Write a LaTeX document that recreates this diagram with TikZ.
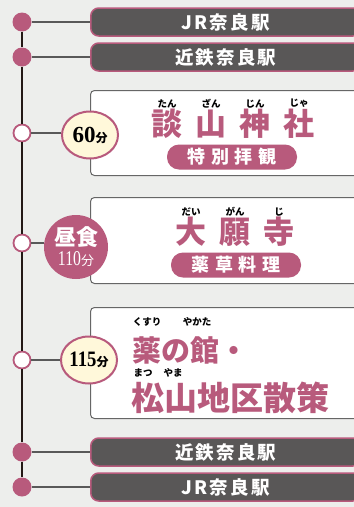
\documentclass[tikz,border=0pt]{standalone}
\usepackage{fontspec}
\usepackage{graphicx}
\setmainfont{Liberation Serif}
\newfontfamily\jp{Noto Sans CJK JP}
\newfontfamily\jpwide{Noto Sans CJK JP}[LetterSpace=12]
\newfontfamily\jppill{Noto Sans CJK JP}[LetterSpace=30]
\usetikzlibrary{positioning,calc,shapes.geometric}
\definecolor{rose}{HTML}{B85A7C}
\definecolor{slate}{HTML}{595757}
\definecolor{paper}{HTML}{EDEEEC}
\definecolor{ink}{HTML}{231815}
\definecolor{cream}{HTML}{FFF8DA}

\begin{document}
\begin{tikzpicture}[x=1pt, y=-1pt,
    station/.style={draw=rose, line width=1.5pt, fill=slate, rounded corners=8pt, minimum width=270pt, minimum height=28pt, anchor=west, text=white, font=\jpwide\bfseries\fontsize{18.5}{18.5}\selectfont},
    spotbox/.style={draw=gray!80!black, line width=1pt, fill=white, rounded corners=4pt, minimum width=270pt, anchor=north west, inner sep=0pt},
    dot/.style={circle, fill=rose, minimum size=19pt, inner sep=0pt},
    hole/.style={circle, draw=rose, line width=1.8pt, fill=white, minimum size=17pt, inner sep=0pt},
    time/.style={ellipse, draw=rose, line width=2pt, fill=cream, minimum width=56pt, minimum height=47pt, inner sep=0pt},
    lunch/.style={circle, fill=rose, minimum size=64pt, inner sep=0pt, text=white, align=center, font=\fontsize{17}{19}\selectfont},
    title/.style={text=rose, font=\jp\bfseries\fontsize{31}{31}\selectfont, inner sep=0pt},
    kana/.style={font=\jp\bfseries\fontsize{9.5}{9.5}\selectfont, inner sep=0pt},
    pill/.style={fill=rose, rounded corners=12pt, minimum width=130pt, minimum height=25pt, text=white, font=\jppill\bfseries\fontsize{18}{18}\selectfont},
    link/.style={draw=gray!70!black, line width=1.2pt},
    spine/.style={draw=ink, line width=2.5pt}]

    % Background
    \clip (0,0) rectangle (354,507);
    \fill[paper] (0,0) rectangle (354,507);

    % Stations and spots
    \node[station] (jr1) at (90,22) {JR奈良駅};
    \node[station] (kin1) at (90,57) {近鉄奈良駅};
    \node[spotbox, minimum height=85pt] (tanzan) at (90,90) {};
    \node[spotbox, minimum height=86pt] (daigan) at (90,197) {};
    \node[spotbox, minimum height=111pt] (yakata) at (90,307) {};
    \node[station] (kin2) at (90,452) {近鉄奈良駅};
    \node[station] (jr2) at (90,487) {JR奈良駅};

    % Timeline
    \node[dot] (d1) at (22,22) {};
    \node[dot] (d2) at (22,57) {};
    \node[hole] (h1) at (22,133) {};
    \node[hole] (h2) at (22,243) {};
    \node[hole] (h3) at (22,360) {};
    \node[dot] (d3) at (22,452) {};
    \node[dot] (d4) at (22,487) {};
    \draw[spine] (d1) -- (d2) -- (h1) -- (h2) -- (h3) -- (d3) -- (d4);

    % Durations
    \node[time] (t1) at (90,135) {{\bfseries\fontsize{23}{23}\selectfont 60}{\jp\bfseries\fontsize{12}{12}\selectfont 分}};
    \node[lunch] (t2) at (76,247) {{\jp\bfseries\fontsize{22}{22}\selectfont 昼食}\\[1pt]{\fontsize{21}{21}\selectfont\scalebox{0.75}[1]{110}}{\jp\fontsize{13}{13}\selectfont 分}};
    \node[time] (t3) at (89,360) {{\bfseries\fontsize{22}{22}\selectfont\scalebox{0.85}[1]{115}}{\jp\bfseries\fontsize{12}{12}\selectfont 分}};

    % Connectors
    \draw[link] (d1) -- (jr1);
    \draw[link] (d2) -- (kin1);
    \draw[link] (h1) -- (h1 -| t1.west);
    \draw[link] (h2) -- (h2 -| t2.west);
    \draw[link] (h3) -- (h3 -| t3.west);
    \draw[link] (d3) -- (kin2);
    \draw[link] (d4) -- (jr2);

    % Tanzan Jinja
    \foreach \kanji/\kana [count=\i] in {談/たん,山/ざん,神/じん,社/じゃ}
        \node[title, label={[kana, yshift=1pt]above:\kana}] (tan\i) at ({167+44*(\i-1)},124) {\kanji};
    \node[pill] (sp1) at (232,157) {特別拝観};

    % Daiganji
    \foreach \kanji/\kana [count=\i] in {大/だい,願/がん,寺/じ}
        \node[title, label={[kana, yshift=1pt]above:\kana}] (dai\i) at ({191+44*(\i-1)},232) {\kanji};
    \node[pill] (sp2) at (236,265) {薬草料理};

    % Kusuri no Yakata
    \node[title, anchor=west, font=\jp\bfseries\fontsize{29}{29}\selectfont] (kus) at (132,350) {薬の館・};
    \node[title, anchor=west, font=\jp\bfseries\fontsize{33}{33}\selectfont] (mat) at (131,398) {松山地区散策};
    \node[kana] (r1) at (147,322) {くすり};
    \node[kana] (r2) at (197,322) {やかた};
    \node[kana] (r3) at (143,373) {まつ};
    \node[kana] (r4) at (173,373) {やま};
\end{tikzpicture}
\end{document}
